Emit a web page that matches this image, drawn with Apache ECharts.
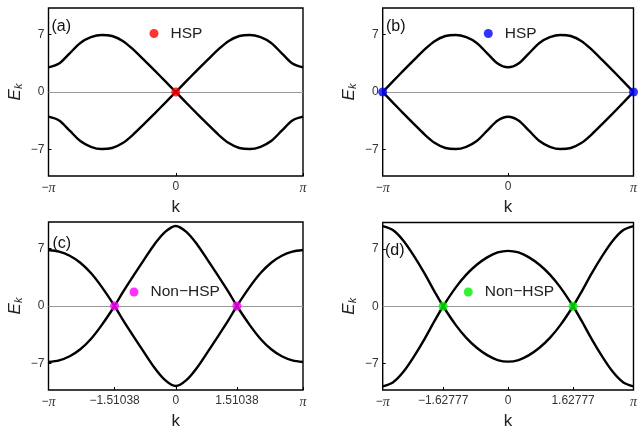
<!DOCTYPE html>
<html>
<head>
<meta charset="utf-8">
<script src="https://cdn.jsdelivr.net/npm/echarts@6/dist/echarts.min.js"></script>
<style>
html,body{margin:0;padding:0;background:#fff;}
#chart{width:640px;height:432px;}
</style>
</head>
<body>
<div id="chart"></div>
<script>
// ---- data ----
const kGrid = [-3.1416, -2.8798, -2.6180, -2.3562, -2.0944, -1.8326, -1.5708, -1.3090, -1.0472, -0.7854, -0.5236, -0.2618, 0,
               0.2618, 0.5236, 0.7854, 1.0472, 1.3090, 1.5708, 1.8326, 2.0944, 2.3562, 2.6180, 2.8798, 3.1416];
// panel (a)
const bandA1 = [3.00, 3.45, 4.70, 5.95, 6.65, 6.93, 6.80, 6.20, 5.15, 3.90, 2.62, 1.32, 0,
                -1.32, -2.62, -3.90, -5.15, -6.20, -6.80, -6.93, -6.65, -5.95, -4.70, -3.45, -3.00];
const bandA2 = [-3.00, -3.45, -4.70, -5.95, -6.65, -6.93, -6.80, -6.20, -5.15, -3.90, -2.62, -1.32, 0,
                1.32, 2.62, 3.90, 5.15, 6.20, 6.80, 6.93, 6.65, 5.95, 4.70, 3.45, 3.00];
// panel (b)
const bandB1 = [0, 1.32, 2.62, 3.90, 5.15, 6.20, 6.80, 6.93, 6.65, 5.95, 4.70, 3.45, 3.00,
                3.45, 4.70, 5.95, 6.65, 6.93, 6.80, 6.20, 5.15, 3.90, 2.62, 1.32, 0];
const bandB2 = [0, -1.32, -2.62, -3.90, -5.15, -6.20, -6.80, -6.93, -6.65, -5.95, -4.70, -3.45, -3.00,
                -3.45, -4.70, -5.95, -6.65, -6.93, -6.80, -6.20, -5.15, -3.90, -2.62, -1.32, 0];
// panel (c)
const kC = [-3.1416, -2.8798, -2.6180, -2.3562, -2.0944, -1.8326, -1.51038, -1.3090, -1.0472, -0.7854, -0.5236, -0.2618, 0,
            0.2618, 0.5236, 0.7854, 1.0472, 1.3090, 1.51038, 1.8326, 2.0944, 2.3562, 2.6180, 2.8798, 3.1416];
const bandC1 = [6.80, 6.60, 6.10, 5.25, 4.00, 2.35, 0, -1.65, -3.65, -5.60, -7.50, -9.00, -9.72,
                -9.00, -7.50, -5.60, -3.65, -1.65, 0, 2.35, 4.00, 5.25, 6.10, 6.60, 6.80];
const bandC2 = [-6.80, -6.60, -6.10, -5.25, -4.00, -2.35, 0, 1.65, 3.65, 5.60, 7.50, 9.00, 9.72,
                9.00, 7.50, 5.60, 3.65, 1.65, 0, -2.35, -4.00, -5.25, -6.10, -6.60, -6.80];
// panel (d)
const kD = [-3.1416, -2.8798, -2.6180, -2.3562, -2.0944, -1.8326, -1.62777, -1.3090, -1.0472, -0.7854, -0.5236, -0.2618, 0,
            0.2618, 0.5236, 0.7854, 1.0472, 1.3090, 1.62777, 1.8326, 2.0944, 2.3562, 2.6180, 2.8798, 3.1416];
const bandD1 = [9.75, 9.25, 7.95, 6.10, 4.00, 1.70, 0, -2.30, -3.85, -5.05, -5.95, -6.55, -6.75,
                -6.55, -5.95, -5.05, -3.85, -2.30, 0, 1.70, 4.00, 6.10, 7.95, 9.25, 9.75];
const bandD2 = [-9.75, -9.25, -7.95, -6.10, -4.00, -1.70, 0, 2.30, 3.85, 5.05, 5.95, 6.55, 6.75,
                6.55, 5.95, 5.05, 3.85, 2.30, 0, -1.70, -4.00, -6.10, -7.95, -9.25, -9.75];
// gap points
const nodeA = [[0, 0]];
const nodeB = [[-3.1416, 0], [3.1416, 0]];
const nodeC = [[-1.51038, 0], [1.51038, 0]];
const nodeD = [[-1.62777, 0], [1.62777, 0]];
// ticks
const xTicksAB = [-3.1416, 0, 3.1416];
const xTickTextAB = ['−{i|π}', '0', '{i|π}'];
const xTicksC = [-3.1416, -1.51038, 0, 1.51038, 3.1416];
const xTickTextC = ['−{i|π}', '−1.51038', '0', '1.51038', '{i|π}'];
const xTicksD = [-3.1416, -1.62777, 0, 1.62777, 3.1416];
const xTickTextD = ['−{i|π}', '−1.62777', '0', '1.62777', '{i|π}'];
const yTicks = [-7, 0, 7];
const yTickText = ['−7', '0', '7'];
const panelLabels = ['(a)', '(b)', '(c)', '(d)'];
const legendNames = ['HSP', 'HSP', 'Non−HSP', 'Non−HSP'];
const nodeColors = ['#ff0000', '#0000ff', '#ff00ff', '#00ee00'];

// ---- chart ----
const zip = (ks, es) => ks.map((k, i) => [k, es[i]]);
const FONT = 'Liberation Sans';
const grids = [
  {left: 48.5, top: 8, width: 254.5, height: 168},
  {left: 382.7, top: 8, width: 254.5, height: 168},
  {left: 48.5, top: 222, width: 254.5, height: 168},
  {left: 382.7, top: 222.5, width: 254.5, height: 167.5}
];
const xTickSets = [[xTicksAB, xTickTextAB], [xTicksAB, xTickTextAB], [xTicksC, xTickTextC], [xTicksD, xTickTextD]];
const bands = [[kGrid, bandA1, bandA2], [kGrid, bandB1, bandB2], [kC, bandC1, bandC2], [kD, bandD1, bandD2]];
const nodes = [nodeA, nodeB, nodeC, nodeD];
const titlePos = [[51.5, 19], [386, 19], [52.5, 236], [385, 243]];
const legendPos = [[149.5, 24.5], [483.8, 24.5], [129.5, 283], [463.8, 283]];

function lookup(vals, texts, v) {
  for (let j = 0; j < vals.length; j++) if (Math.abs(vals[j] - v) < 1e-3) return texts[j];
  return '';
}

const option = {
  animation: false,
  backgroundColor: '#fff',
  grid: grids.map(g => Object.assign({show: true, borderColor: '#000', borderWidth: 1.4, backgroundColor: 'transparent'}, g)),
  title: panelLabels.map((t, i) => ({
    text: t, left: titlePos[i][0], top: titlePos[i][1], padding: 0,
    textStyle: {fontSize: 16, fontWeight: 'normal', fontFamily: FONT, color: '#111'}
  })),
  legend: legendNames.map((n, i) => ({
    data: [{name: n + '·' + i, icon: 'circle'}],
    left: legendPos[i][0], top: legendPos[i][1], padding: 0,
    itemWidth: 9, itemHeight: 9, selectedMode: false,
    formatter: s => s.split('·')[0],
    textStyle: {fontSize: 15.5, fontFamily: FONT, color: '#222', padding: [0, 0, 0, 7], lineHeight: 18}
  })),
  xAxis: grids.map((g, i) => ({
    type: 'value', gridIndex: i, min: -3.1416, max: 3.1416,
    name: 'k', nameLocation: 'middle', nameGap: 23,
    nameTextStyle: {fontSize: 17, fontFamily: FONT, color: '#222'},
    axisLine: {show: false, onZero: false}, splitLine: {show: false},
    axisTick: {show: true, inside: true, length: 3, lineStyle: {color: '#000', width: 1}, customValues: xTickSets[i][0]},
    axisLabel: {
      show: true, margin: 5, fontSize: 12, fontFamily: FONT, color: '#333',
      customValues: xTickSets[i][0],
      formatter: v => lookup(xTickSets[i][0], xTickSets[i][1], v),
      rich: {i: {fontStyle: 'italic', fontFamily: 'Liberation Serif', fontSize: 14, color: '#333'}}
    }
  })),
  yAxis: grids.map((g, i) => ({
    type: 'value', gridIndex: i, min: -10.2, max: 10.2,
    name: '{e|E}{s|k}', nameLocation: 'middle', nameGap: 24, nameRotate: 90,
    nameTextStyle: {
      rich: {
        e: {fontSize: 17, fontStyle: 'italic', fontFamily: FONT, color: '#222'},
        s: {fontSize: 11, fontStyle: 'italic', fontFamily: FONT, color: '#222', padding: [8, 0, 0, 0]}
      }
    },
    axisLine: {show: false, onZero: false}, splitLine: {show: false},
    axisTick: {show: true, inside: true, length: 3, lineStyle: {color: '#000', width: 1}, customValues: yTicks},
    axisLabel: {
      show: true, margin: 4, fontSize: 12, fontFamily: FONT, color: '#333',
      customValues: yTicks,
      formatter: v => lookup(yTicks, yTickText, v)
    }
  })),
  series: []
};

bands.forEach((b, i) => {
  option.series.push({
    type: 'line', xAxisIndex: i, yAxisIndex: i, data: zip(b[0], b[1]),
    showSymbol: false, smooth: 0.3, silent: true, z: 3,
    lineStyle: {color: '#000', width: 2.4},
    markLine: {
      silent: true, symbol: 'none', label: {show: false}, z: 1,
      lineStyle: {color: '#999', width: 1.2, type: 'solid'},
      data: [{yAxis: 0}]
    }
  });
  option.series.push({
    type: 'line', xAxisIndex: i, yAxisIndex: i, data: zip(b[0], b[2]),
    showSymbol: false, smooth: 0.3, silent: true, z: 3,
    lineStyle: {color: '#000', width: 2.4}
  });
  option.series.push({
    name: legendNames[i] + '·' + i,
    type: 'scatter', xAxisIndex: i, yAxisIndex: i, data: nodes[i],
    symbol: 'circle', symbolSize: 9, clip: false, z: 5, silent: true,
    itemStyle: {color: nodeColors[i]}
  });
});

const chart = echarts.init(document.getElementById('chart'), null, {renderer: 'canvas'});
chart.setOption(option);
</script>
</body>
</html>
